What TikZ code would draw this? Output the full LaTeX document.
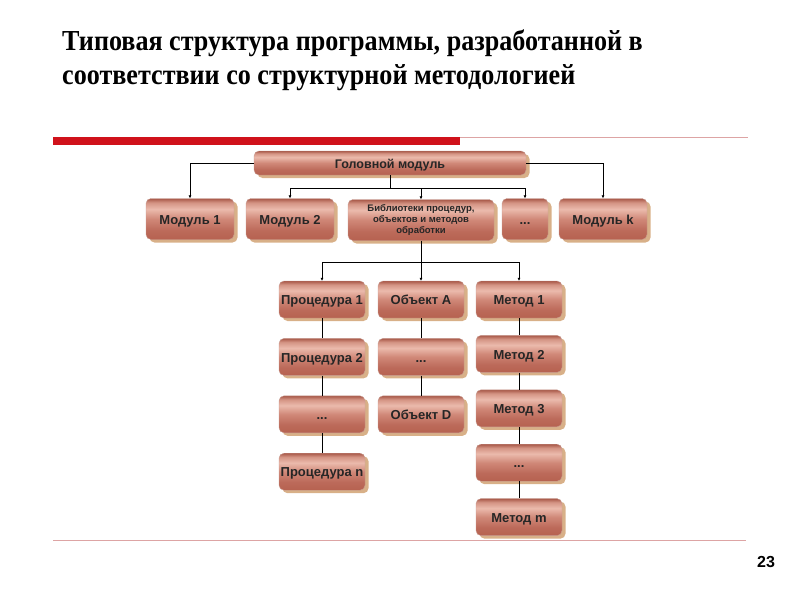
\documentclass[tikz,border=0pt]{standalone}
\usepackage{fontspec}
\setmainfont{Liberation Serif}
\setsansfont{Liberation Sans}
\newfontfamily\titlefont{Liberation Serif}[FakeStretch=0.9]
\usepackage{xcolor}
\usetikzlibrary{positioning,arrows.meta,shadows}
\definecolor{brTop}{HTML}{A85848}
\definecolor{brRim}{HTML}{D49484}
\definecolor{brLight}{HTML}{EBBAAC}
\definecolor{brBody}{HTML}{D08878}
\definecolor{brDark}{HTML}{BC6A5A}
\definecolor{brLow}{HTML}{B66250}
\definecolor{brEdge}{HTML}{A45848}
\definecolor{brShadow}{HTML}{D8B088}
\definecolor{brText}{HTML}{262626}
\definecolor{barRed}{HTML}{D0121B}
\definecolor{rule}{HTML}{DDA4A4}
\pgfdeclareverticalshading{brick}{100bp}{%
  color(0bp)=(brLow); color(25bp)=(brLow); color(36bp)=(brDark);
  color(50bp)=(brBody); color(62bp)=(brLight); color(70bp)=(brRim);
  color(75bp)=(brTop); color(100bp)=(brTop)}

\begin{document}
\begin{tikzpicture}[
  x=1pt, y=-1pt,
  font=\sffamily,
  box/.style={
    rectangle, rounded corners=5pt,
    shading=brick, draw=brEdge!60, line width=0.4pt,
    drop shadow={shadow xshift=3.5pt, shadow yshift=-3pt,
      fill=brShadow, opacity=1},
    text=brText, align=center, inner sep=1pt,
    font=\sffamily\bfseries\fontsize{13}{15}\selectfont
  },
  % one-line labels sit on a fixed baseline
  oneline/.style={text height=11.5pt, text depth=1pt},
  headbox/.style={box, oneline, minimum width=272pt, minimum height=24pt,
    font=\sffamily\bfseries\fontsize{12.5}{14}\selectfont},
  modbox/.style={box, minimum width=88pt, minimum height=41pt},
  itembox/.style={box, oneline, minimum width=86pt, minimum height=37pt},
  wire/.style={draw=black, line width=0.8pt},
  tip/.style={wire, -{Latex[length=3pt,width=3pt]}},
  title/.style={font=\titlefont\bfseries\fontsize{29}{34}\selectfont,
    align=left, inner sep=0pt, anchor=north west}
]
\useasboundingbox (0,0) rectangle (800,600);

% ---- title and rules ------------------------------------------------------
\node[title] (title) at (62,30)
  {Типовая структура программы, разработанной в\\
   соответствии со структурной методологией};
\fill[barRed] (53,137) rectangle (460,145);
\draw[rule, line width=0.8pt] (460,137.5) -- (748,137.5);
\draw[rule, line width=0.8pt] (53,540) -- (746,540);
\node[font=\sffamily\bfseries\fontsize{16}{18}\selectfont] (page) at (766,562) {23};

% ---- boxes ----------------------------------------------------------------
\node[headbox] (head) at (390,163) {Головной модуль};

\node[modbox, oneline] (m1) at (190,219) {Модуль 1};
\node[modbox, oneline] (m2) at (290,219) {Модуль 2};
\node[modbox, minimum width=146pt,
  font=\sffamily\bfseries\fontsize{9.5}{11}\selectfont] (lib) at (421,220)
  {Библиотеки процедур,\\объектов и методов\\обработки};
\node[modbox, oneline, minimum width=46pt] (mdots) at (525,219) {...};
\node[modbox, oneline] (mk) at (603,219) {Модуль k};

\node[itembox] (p1) at (322,299.5) {Процедура 1};
\node[itembox, below=20pt of p1] (p2) {Процедура 2};
\node[itembox, below=20pt of p2] (p3) {...};
\node[itembox, below=20pt of p3] (pn) {Процедура n};

\node[itembox] (o1) at (421,299.5) {Объект A};
\node[itembox, below=20pt of o1] (o2) {...};
\node[itembox, below=20pt of o2] (od) {Объект D};

\node[itembox] (t1) at (519,299.5) {Метод 1};
\node[itembox, below=17pt of t1] (t2) {Метод 2};
\node[itembox, below=17pt of t2] (t3) {Метод 3};
\node[itembox, below=17pt of t3] (t4) {...};
\node[itembox, below=17pt of t4] (tm) {Метод m};

% ---- connectors -----------------------------------------------------------
\draw[tip] (head.west) -| (m1.north);
\draw[tip] (head.east) -| (mk.north);
\draw[wire] (head.south) -- ++(0,13) coordinate (bus1);
\draw[tip] (bus1) -| (m2.north);
\draw[tip] (bus1) -| (lib.north);
\draw[tip] (bus1) -| (mdots.north);

\draw[wire] (lib.south) -- ++(0,22) coordinate (bus2);
\draw[tip] (bus2) -| (p1.north);
\draw[tip] (bus2) -| (o1.north);
\draw[tip] (bus2) -| (t1.north);

\draw[wire] (p1) -- (p2);
\draw[wire] (p2) -- (p3);
\draw[wire] (p3) -- (pn);
\draw[wire] (o1) -- (o2);
\draw[wire] (o2) -- (od);
\draw[wire] (t1) -- (t2);
\draw[wire] (t2) -- (t3);
\draw[wire] (t3) -- (t4);
\draw[wire] (t4) -- (tm);

\end{tikzpicture}
\end{document}
